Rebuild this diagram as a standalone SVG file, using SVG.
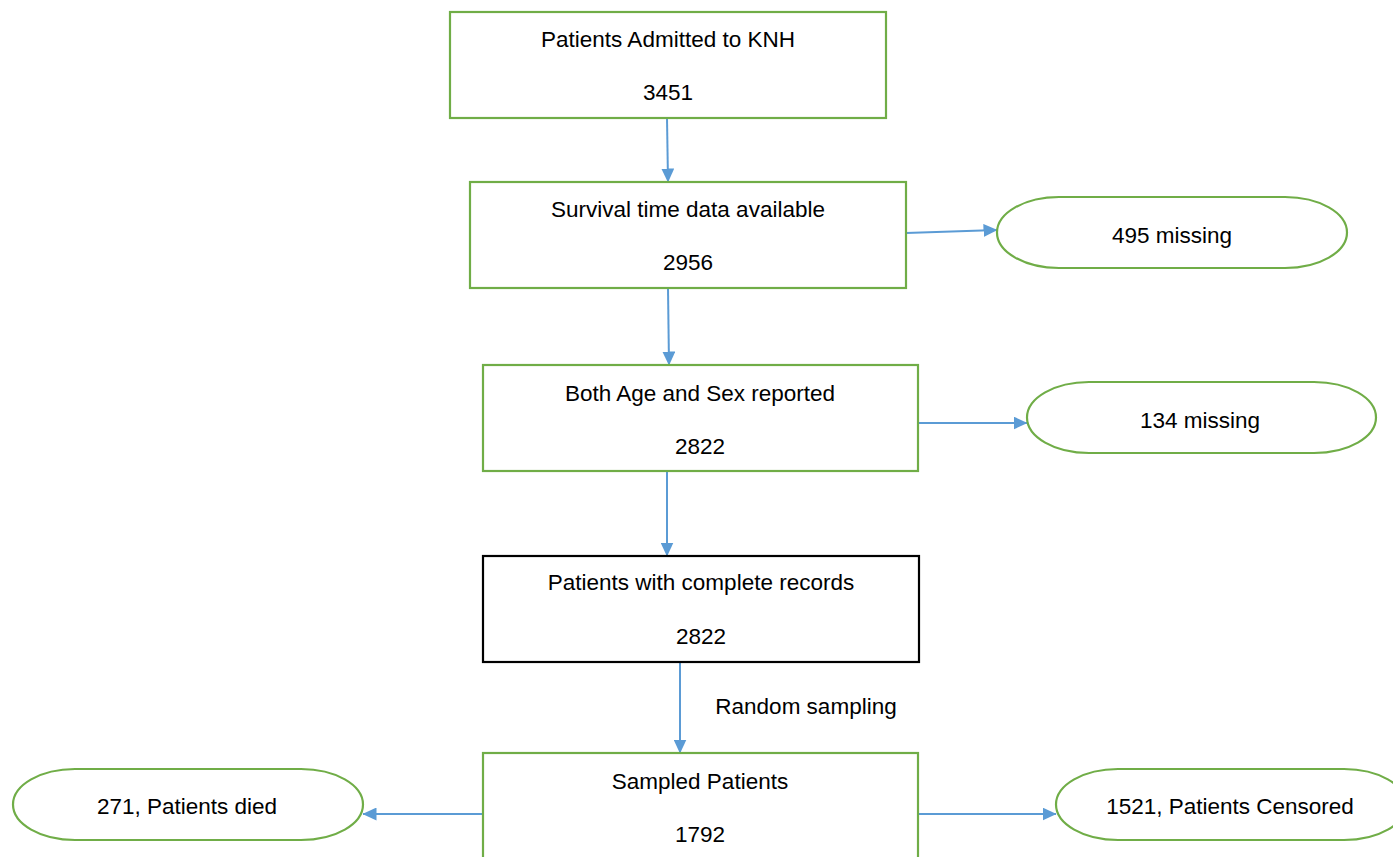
<svg xmlns="http://www.w3.org/2000/svg" width="1393" height="857" viewBox="0 0 1393 857">
<style>
.box{fill:#fff;stroke:#70AD47;stroke-width:2.2}
.blk{fill:#fff;stroke:#000;stroke-width:2.2}
.t{font-family:"Liberation Sans",Arial,sans-serif;font-size:22.5px;fill:#000;text-anchor:middle}
.c{stroke:#5B9BD5;stroke-width:2;fill:none;marker-end:url(#ah)}
</style>
<defs>
<marker id="ah" markerWidth="14" markerHeight="13" refX="13.5" refY="6.5" orient="auto" markerUnits="userSpaceOnUse">
<path d="M0,0 L14,6.5 L0,13 Z" fill="#5B9BD5"/>
</marker>
</defs>
<rect width="1393" height="857" fill="#fff"/>
<g id="connectors">
<path class="c" d="M667,118 L668,182"/>
<path class="c" d="M906,233 L997,230"/>
<path class="c" d="M668,288 L669,365"/>
<path class="c" d="M918,423 L1027,423"/>
<path class="c" d="M667,471 L667,556"/>
<path class="c" d="M680,662 L680,753"/>
<path class="c" d="M483,814 L363,814"/>
<path class="c" d="M918,814 L1056,814"/>
</g>
<g id="n1"><rect class="box" x="450" y="12" width="436" height="106"/><text class="t" x="668" y="47">Patients Admitted to KNH</text><text class="t" x="668" y="100">3451</text></g>
<g id="n2"><rect class="box" x="470" y="182" width="436" height="106"/><text class="t" x="688" y="217">Survival time data available</text><text class="t" x="688" y="270">2956</text></g>
<g id="n3"><rect class="box" x="997" y="197" width="350" height="71" rx="62" ry="35.5"/><text class="t" x="1172" y="243">495 missing</text></g>
<g id="n4"><rect class="box" x="483" y="365" width="435" height="106"/><text class="t" x="700" y="401">Both Age and Sex reported</text><text class="t" x="700" y="454">2822</text></g>
<g id="n5"><rect class="box" x="1027" y="382" width="349" height="71" rx="62" ry="35.5"/><text class="t" x="1200" y="428">134 missing</text></g>
<g id="n6"><rect class="blk" x="483" y="556" width="436" height="106"/><text class="t" x="701" y="590">Patients with complete records</text><text class="t" x="701" y="644">2822</text></g>
<g id="lbl"><text class="t" x="806" y="714">Random sampling</text></g>
<g id="n7"><rect class="box" x="483" y="753" width="435" height="110"/><text class="t" x="700" y="789">Sampled Patients</text><text class="t" x="700" y="842">1792</text></g>
<g id="n8"><rect class="box" x="13" y="769" width="350" height="71" rx="62" ry="35.5"/><text class="t" x="187" y="814">271, Patients died</text></g>
<g id="n9"><rect class="box" x="1056" y="769" width="350" height="71" rx="62" ry="35.5"/><text class="t" x="1230" y="814">1521, Patients Censored</text></g>
</svg>
